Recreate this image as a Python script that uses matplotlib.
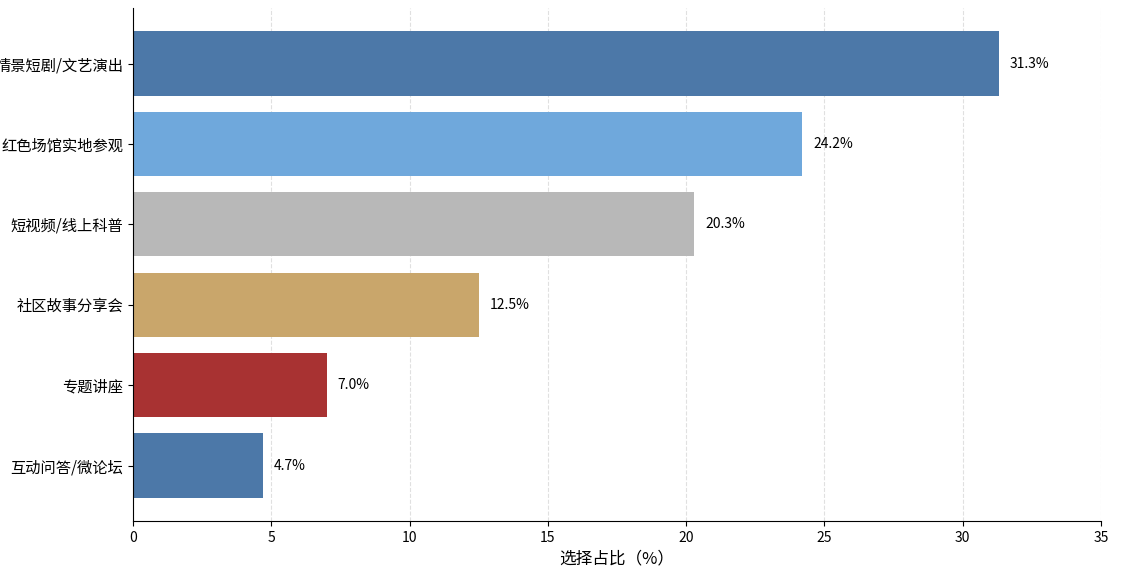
import matplotlib
matplotlib.use("Agg")
import matplotlib.pyplot as plt

plt.rcParams['font.family'] = ['Noto Sans CJK SC', 'DejaVu Sans']
plt.rcParams['axes.unicode_minus'] = False

# 数据（从上到下）
categories = ["情景短剧/文艺演出", "红色场馆实地参观", "短视频/线上科普",
              "社区故事分享会", "专题讲座", "互动问答/微论坛"]
values = [31.3, 24.2, 20.3, 12.5, 7.0, 4.7]
colors = ["#4C78A8", "#6FA8DC", "#B8B8B8", "#C9A66B", "#A83232", "#4C78A8"]

fig = plt.figure(figsize=(11.22, 5.74), dpi=100)
ax = fig.add_axes([0.1185, 0.0923, 0.8627, 0.8937])

ypos = list(range(len(categories)))
ax.barh(ypos, values, height=0.8, color=colors)
ax.invert_yaxis()
ax.set_yticks(ypos)
ax.set_yticklabels(categories, fontsize=11)

for y, v in zip(ypos, values):
    ax.text(v + 0.4, y, f"{v:.1f}%", va='center', ha='left', fontsize=10)

ax.set_xlim(0, 35)
ax.set_xlabel("选择占比（%）", fontsize=12)
ax.tick_params(axis='x', labelsize=10)
ax.grid(axis='x', linestyle='--', color='#cccccc', alpha=0.6)
ax.set_axisbelow(True)
ax.spines['top'].set_visible(False)
ax.spines['right'].set_visible(False)

fig.savefig("out.png", dpi=100)
